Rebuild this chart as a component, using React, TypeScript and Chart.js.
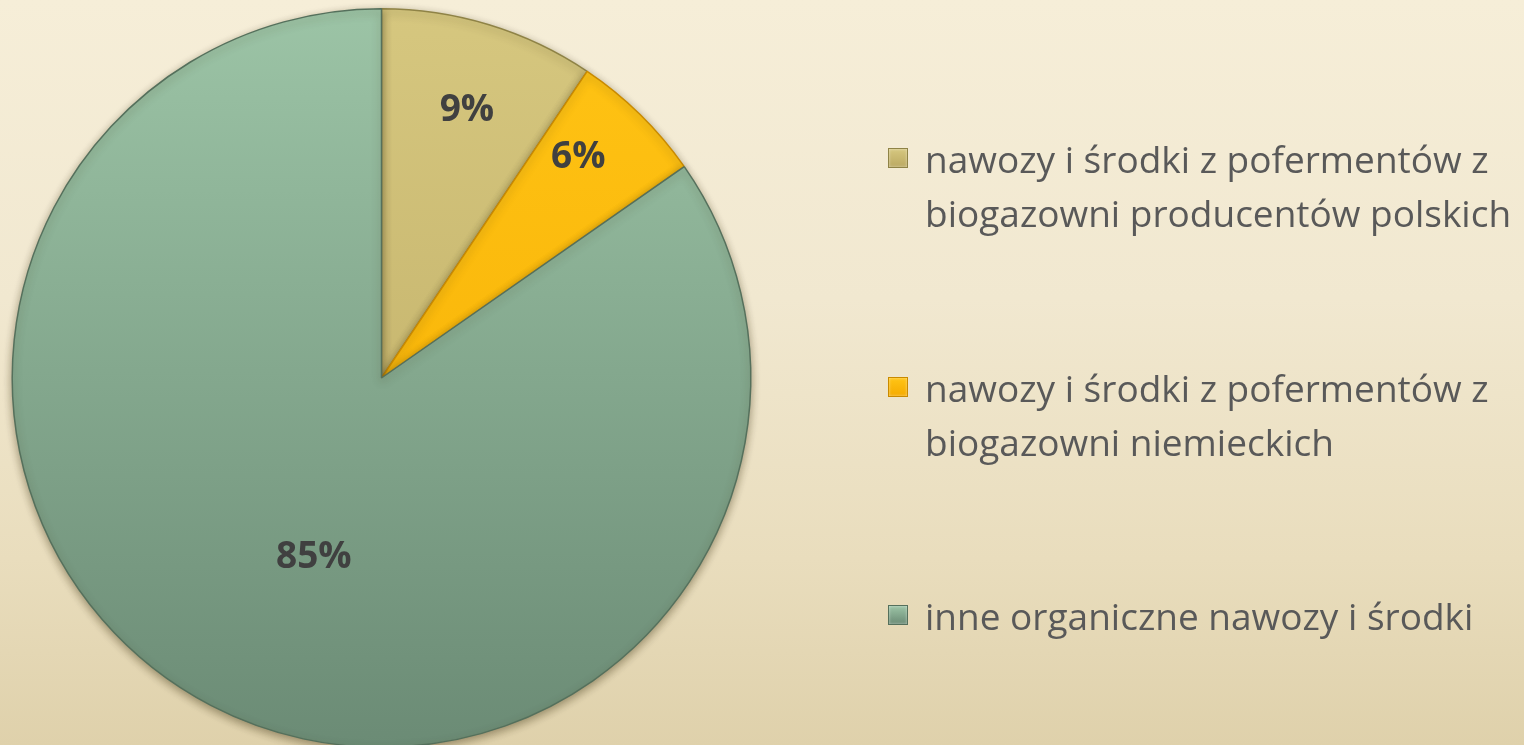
import React, { useEffect, useRef } from "react";
import { Chart, registerables } from "chart.js";

Chart.register(...registerables);

const categories: string[][] = [
  ["nawozy i środki z pofermentów z", "biogazowni producentów polskich"],
  ["nawozy i środki z pofermentów z", "biogazowni niemieckich"],
  ["inne organiczne nawozy i środki"],
];
const shares: number[] = [9.4, 5.9, 84.7];
const topColors: string[] = ["#d6c77f", "#ffc415", "#9cc4a6"];
const bottomColors: string[] = ["#bba962", "#f5ab00", "#6b8b75"];
const edgeColors: string[] = ["#8f8346", "#c98a00", "#55705c"];
const labelRadius: number[] = [0.76, 0.8, 0.52];
const labelAngleDelta: number[] = [0.8, -2.7, -6.9];

const FONT = "'Open Sans', 'Noto Sans', sans-serif";

const pctLabels = {
  id: "pctLabels",
  afterDatasetsDraw(chart: any) {
    const ctx = chart.ctx;
    const meta = chart.getDatasetMeta(0);
    const data = chart.data.datasets[0].data as number[];
    const total = data.reduce((a, b) => a + b, 0);
    ctx.save();
    ctx.font = `bold 37px ${FONT}`;
    ctx.fillStyle = "#404040";
    ctx.textAlign = "center";
    ctx.textBaseline = "middle";
    meta.data.forEach((arc: any, i: number) => {
      const { x, y, startAngle, endAngle, outerRadius } = arc.getProps(
        ["x", "y", "startAngle", "endAngle", "outerRadius"],
        true
      );
      const mid = (startAngle + endAngle) / 2 + (labelAngleDelta[i] * Math.PI) / 180;
      const r = outerRadius * labelRadius[i];
      const pct = Math.round((data[i] / total) * 100) + "%";
      ctx.fillText(pct, x + Math.cos(mid) * r, y + Math.sin(mid) * r);
    });
    ctx.restore();
  },
};

const shadowPlugin = {
  id: "pieShadow",
  beforeDatasetsDraw(chart: any) {
    const ctx = chart.ctx;
    ctx.save();
    ctx.shadowColor = "rgba(60,50,20,0.45)";
    ctx.shadowBlur = 8;
    ctx.shadowOffsetX = 0;
    ctx.shadowOffsetY = 3;
  },
  afterDatasetsDraw(chart: any) {
    chart.ctx.restore();
  },
};

function gradientFor(i: number) {
  return (context: any) => {
    const chart = context.chart;
    const area = chart.chartArea;
    if (!area) return topColors[i];
    const g = chart.ctx.createLinearGradient(0, area.top, 0, area.bottom);
    g.addColorStop(0, topColors[i]);
    g.addColorStop(1, bottomColors[i]);
    return g;
  };
}

export default function App() {
  const canvasRef = useRef<HTMLCanvasElement | null>(null);

  useEffect(() => {
    if (!canvasRef.current) return;
    const chart = new Chart(canvasRef.current, {
      type: "pie",
      data: {
        labels: categories.map((c) => c.join(" ")),
        datasets: [
          {
            data: shares,
            backgroundColor: (ctx: any) => gradientFor(ctx.dataIndex)(ctx),
            borderColor: edgeColors,
            borderWidth: 1.5,
            hoverOffset: 0,
          },
        ],
      },
      options: {
        animation: false,
        responsive: true,
        maintainAspectRatio: false,
        layout: { padding: { left: 11, right: 772, top: 8, bottom: 12 } },
        plugins: {
          legend: { display: false },
          tooltip: { enabled: false },
        },
      },
      plugins: [shadowPlugin, pctLabels],
    });
    return () => chart.destroy();
  }, []);

  const itemTops = [132, 361, 589];

  return (
    <div
      style={{
        position: "fixed",
        left: 0,
        top: 0,
        width: 1524,
        height: 745,
        overflow: "hidden",
        background: "linear-gradient(to bottom, #f6eed8 0%, #f1e8d0 40%, #e9ddbd 75%, #dfd1ab 100%)",
      }}
    >
      <div style={{ position: "absolute", left: 0, top: 0, width: 1524, height: 760 }}>
        <canvas ref={canvasRef} />
      </div>
      {categories.map((lines, i) => (
        <div
          key={i}
          style={{
            position: "absolute",
            left: 888,
            top: itemTops[i],
            display: "flex",
            alignItems: "flex-start",
            fontFamily: FONT,
            fontSize: 37,
            lineHeight: "54px",
            color: "#595959",
            whiteSpace: "nowrap",
          }}
        >
          <div
            style={{
              width: 20,
              height: 20,
              marginTop: 16,
              marginRight: 17,
              boxSizing: "border-box",
              border: `1px solid ${edgeColors[i]}`,
              background: `linear-gradient(to bottom, ${topColors[i]}, ${bottomColors[i]})`,
              boxShadow: "inset 0 0 3px rgba(255,255,255,0.5)",
              flex: "none",
            }}
          />
          <div>
            {lines.map((l, j) => (
              <div key={j}>{l}</div>
            ))}
          </div>
        </div>
      ))}
    </div>
  );
}
